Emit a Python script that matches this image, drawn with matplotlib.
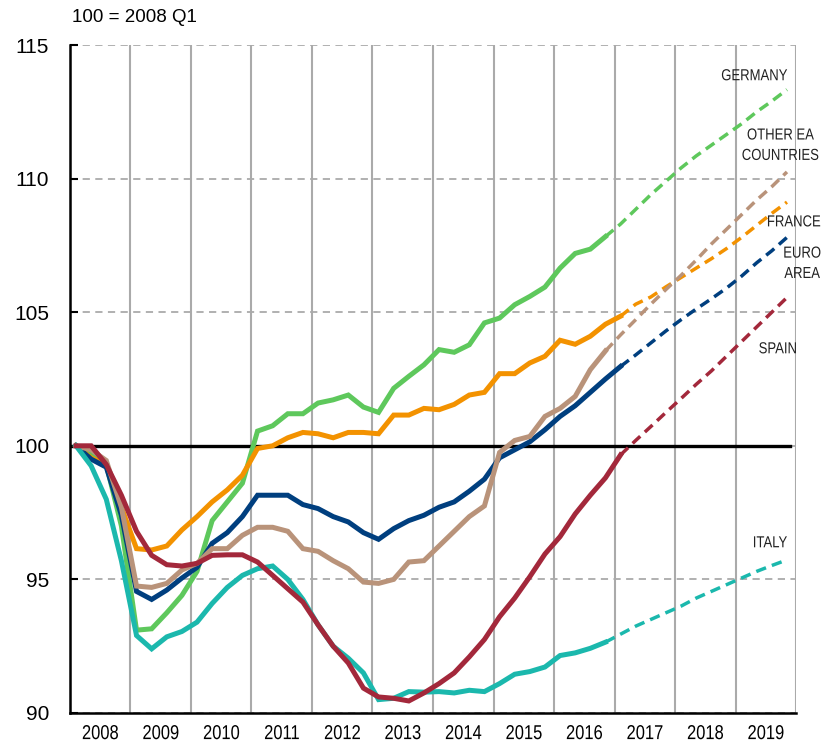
import numpy as np
import matplotlib
matplotlib.use('Agg')
import matplotlib.pyplot as plt
from matplotlib.patheffects import AbstractPathEffect
from matplotlib.transforms import Affine2D
from matplotlib.ticker import MultipleLocator, FixedLocator, NullFormatter

plt.rcParams['font.family'] = ['Liberation Sans', 'DejaVu Sans']

# quarterly index, 100 = 2008 Q1 ; solid = outturn, *_proj = projection
germany = [100, 99.7, 99.3, 97.0, 93.1, 93.15, 93.75, 94.4, 95.3, 97.2,
           97.9, 98.6, 100.55, 100.75, 101.2, 101.2, 101.6, 101.72, 101.9, 101.45,
           101.25, 102.15, 102.6, 103.03, 103.6, 103.5, 103.78, 104.6, 104.78, 105.28,
           105.59, 105.94, 106.65, 107.2, 107.36, 107.83]
germany_proj = [107.83, 108.3, 108.85, 109.4, 109.9, 110.4, 110.85, 111.25, 111.65,
                112.05, 112.5, 112.9, 113.33]

france = [100, 99.55, 99.3, 97.7, 96.15, 96.1, 96.25, 96.85, 97.35, 97.9,
          98.35, 98.9, 99.9, 100.0, 100.3, 100.5, 100.45, 100.3, 100.5, 100.5,
          100.45, 101.15, 101.15, 101.4, 101.35, 101.55, 101.9, 102.0, 102.7, 102.7,
          103.1, 103.35, 103.95, 103.8, 104.1, 104.55, 104.85]
france_proj = [104.85, 105.3, 105.57, 105.95, 106.3, 106.65, 107.0, 107.38, 107.8,
               108.25, 108.7, 109.12]

euro = [100, 99.5, 99.2, 97.4, 94.55, 94.25, 94.6, 95.05, 95.45, 96.35,
        96.75, 97.35, 98.15, 98.15, 98.15, 97.8, 97.65, 97.35, 97.15, 96.75,
        96.5, 96.9, 97.2, 97.4, 97.7, 97.9, 98.3, 98.75, 99.55, 99.85,
        100.15, 100.6, 101.1, 101.5, 102.0, 102.5, 102.97]
euro_proj = [102.97, 103.4, 103.85, 104.3, 104.72, 105.12, 105.5, 105.9, 106.35,
             106.85, 107.3, 107.8]

other = [100, 99.85, 99.45, 97.7, 94.75, 94.7, 94.85, 95.35, 95.6, 96.15,
         96.15, 96.65, 96.95, 96.95, 96.8, 96.15, 96.05, 95.7, 95.4, 94.9,
         94.85, 95.0, 95.65, 95.7, 96.25, 96.8, 97.35, 97.75, 99.75, 100.2,
         100.35, 101.1, 101.4, 101.85, 102.85, 103.55]
other_proj = [103.55, 104.15, 104.72, 105.3, 105.85, 106.38, 106.95, 107.55, 108.1,
              108.65, 109.2, 109.7, 110.25]

spain = [100, 100.0, 99.3, 98.15, 96.8, 95.9, 95.55, 95.5, 95.6, 95.9,
         95.92, 95.92, 95.65, 95.15, 94.65, 94.15, 93.3, 92.5, 91.87, 90.93,
         90.6, 90.55, 90.45, 90.75, 91.1, 91.5, 92.1, 92.75, 93.6, 94.3,
         95.1, 95.95, 96.6, 97.45, 98.15, 98.8, 99.66]
spain_proj = [99.66, 100.2, 100.72, 101.25, 101.77, 102.3, 102.8, 103.35, 103.9,
              104.45, 105.0, 105.55]

italy = [100, 99.25, 98.0, 95.7, 92.9, 92.4, 92.85, 93.05, 93.4, 94.1,
         94.7, 95.15, 95.4, 95.5, 95.0, 94.25, 93.3, 92.5, 92.05, 91.5,
         90.5, 90.55, 90.8, 90.78, 90.8, 90.75, 90.85, 90.8, 91.1, 91.45,
         91.55, 91.72, 92.15, 92.25, 92.42, 92.65]
italy_proj = [92.65, 92.95, 93.25, 93.5, 93.75, 94.0, 94.3, 94.55, 94.8, 95.05,
              95.3, 95.52, 95.73]

years = list(range(2008, 2020))

series = [
    (germany, germany_proj, '#5ec85c'),
    (france, france_proj, '#f39200'),
    (euro, euro_proj, '#003f7f'),
    (other, other_proj, '#b9937a'),
    (italy, italy_proj, '#1bb8ad'),
    (spain, spain_proj, '#a3283b'),
]


class Narrow(AbstractPathEffect):
    # squeeze glyphs horizontally around each line's centre (narrow typeface look)
    def __init__(self, sx=0.82):
        super().__init__()
        self.sx = sx

    def draw_path(self, renderer, gc, tpath, affine, rgbFace=None):
        ext = tpath.get_extents()
        cx = (ext.x0 + ext.x1) / 2
        t = Affine2D().translate(-cx, 0).scale(self.sx, 1).translate(cx, 0)
        renderer.draw_path(gc, tpath, t + affine, rgbFace)


def qx(start, n):
    # quarter positions in years
    return 2008.1 + 0.25 * (start + np.arange(n))


fig = plt.figure(figsize=(8.28, 7.54), dpi=100)
ax = fig.add_axes([0.0845, 0.0544, 0.8769, 0.8859])

ax.set_xlim(2008, 2020)
ax.set_ylim(90, 115)

ax.xaxis.set_major_locator(MultipleLocator(1))
ax.xaxis.set_major_formatter(NullFormatter())
ax.xaxis.set_minor_locator(FixedLocator([y + 0.5 for y in years]))
ax.set_xticklabels([str(y) for y in years], minor=True, fontsize=14.5,
                   path_effects=[Narrow()])
ax.tick_params(axis='x', which='both', length=0, pad=8)

ax.set_yticks([90, 95, 100, 105, 110, 115])
ax.tick_params(axis='y', direction='in', length=6, width=1.5, labelsize=15, pad=15)

ax.grid(axis='x', which='major', color='#aaaaaa', lw=1.5, ls='-')
ax.grid(axis='y', which='major', color='#aaaaaa', lw=1.3, ls=(0, (4, 3)))
ax.set_axisbelow(True)

for s in ['top', 'right']:
    ax.spines[s].set_visible(False)
for s in ['left', 'bottom']:
    ax.spines[s].set_linewidth(1.8)

ax.axhline(100, xmin=0, xmax=0.992, color='black', lw=2.4, zorder=2)

for solid, proj, col in series:
    ax.plot(qx(0, len(solid)), solid, color=col, lw=3.6, solid_joinstyle='miter', zorder=3)
    start = len(solid) - 1
    ax.plot(qx(start, len(proj)), proj, color=col, lw=2.5, dashes=(3, 1.8), zorder=3)

labels = [
    ('GERMANY', 2019.31, 113.85),
    ('OTHER EA\nCOUNTRIES', 2019.74, 111.25),
    ('FRANCE', 2019.96, 108.38),
    ('EURO\nAREA', 2020.1, 106.83),
    ('SPAIN', 2019.70, 103.63),
    ('ITALY', 2019.57, 96.37),
]
for txt, x, y in labels:
    ax.text(x, y, txt, ha='center', va='center', fontsize=11.5, color='#222222',
            linespacing=1.45, path_effects=[Narrow()])

fig.text(72 / 828, 1 - 17 / 754, '100 = 2008 Q1', fontsize=13.5, va='center', ha='left')

fig.savefig('out.png', dpi=100)
